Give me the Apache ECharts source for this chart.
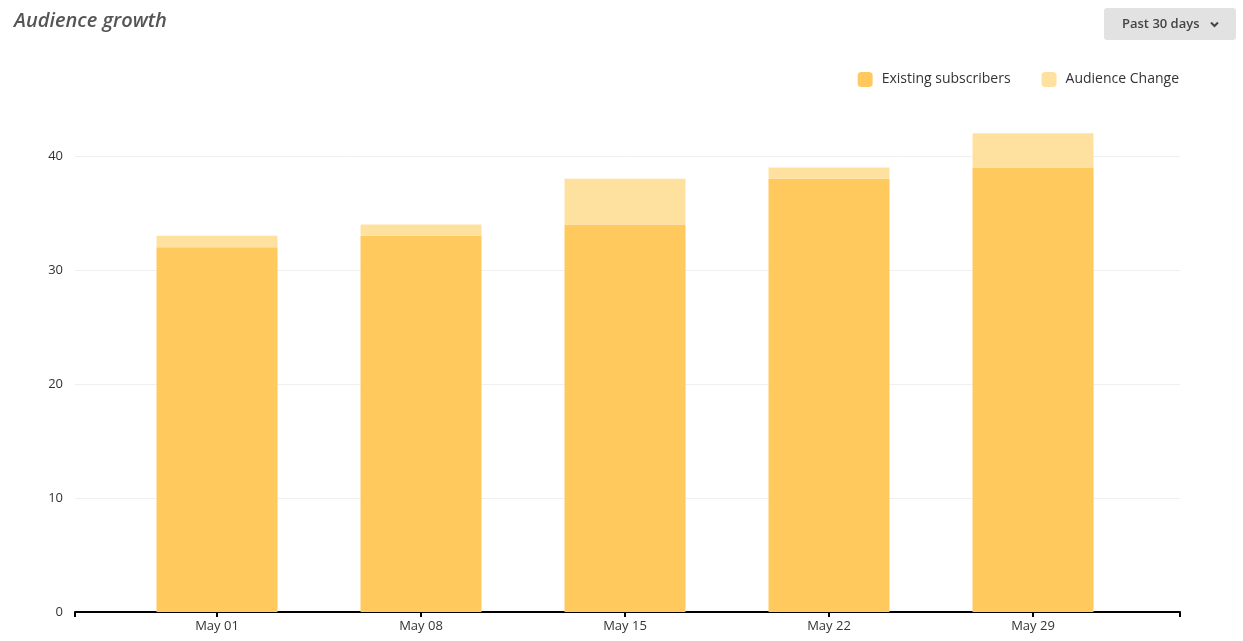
<!DOCTYPE html>
<html>
<head>
<meta charset="utf-8">
<script src="https://cdn.jsdelivr.net/npm/echarts@6/dist/echarts.min.js"></script>
<style>
html,body{margin:0;padding:0;background:#fff;}
#c{width:1243px;height:641px;}
</style>
</head>
<body>
<div id="c"></div>
<script>
const categories = ['May 01', 'May 08', 'May 15', 'May 22', 'May 29'];
const existingSubscribers = [32, 33, 34, 38, 39];
const audienceChange = [1, 1, 4, 1, 3];
const yTicks = [0, 10, 20, 30, 40];

const chart = echarts.init(document.getElementById('c'));
const font = '"Open Sans", "Noto Sans", sans-serif';
const yMin = yTicks[0], yMax = yTicks[yTicks.length - 1];
chart.setOption({
  animation: false,
  textStyle: { fontFamily: font },
  title: {
    text: 'Audience growth', left: 9, top: 6,
    textStyle: { fontFamily: font, fontStyle: 'italic', fontWeight: 600, fontSize: 20, color: '#555' }
  },
  legend: {
    right: 59, top: 67, icon: 'roundRect', itemWidth: 15, itemHeight: 15, itemGap: 31,
    textStyle: { fontFamily: font, fontSize: 14, color: '#333', padding: [0, 0, 0, 4] },
    data: ['Existing subscribers', 'Audience Change']
  },
  grid: [
    { left: 115, right: 108, top: 156, bottom: 29 },
    { left: 75, right: 63, top: 156, bottom: 29 }
  ],
  xAxis: [
    {
      type: 'category', gridIndex: 0, data: categories,
      axisLine: { show: false },
      axisTick: { show: true, alignWithLabel: true, length: 5, lineStyle: { color: '#000', width: 2 } },
      axisLabel: { fontFamily: font, fontSize: 13, color: '#333', margin: 8 }
    },
    {
      type: 'value', gridIndex: 1, min: 0, max: 1,
      axisLine: { show: true, lineStyle: { color: '#000', width: 2 } },
      axisTick: { show: true, customValues: [0, 1], length: 5, lineStyle: { color: '#000', width: 2 } },
      axisLabel: { show: false },
      splitLine: { show: false }
    }
  ],
  yAxis: [
    {
      type: 'value', gridIndex: 0, min: yMin, max: yMax, interval: 10, show: false,
      splitLine: { show: false }
    },
    {
      type: 'value', gridIndex: 1, min: yMin, max: yMax, interval: 10,
      axisLine: { show: false }, axisTick: { show: false },
      axisLabel: { fontFamily: font, fontSize: 13, color: '#333', margin: 12 },
      splitLine: { lineStyle: { color: '#efefef', width: 1 } }
    }
  ],
  series: [
    {
      name: 'Existing subscribers', type: 'bar', stack: 'total', barWidth: 121, clip: false,
      xAxisIndex: 0, yAxisIndex: 0, z: 3,
      itemStyle: { color: '#FFC95D' },
      data: existingSubscribers
    },
    {
      name: 'Audience Change', type: 'bar', stack: 'total', barWidth: 121, clip: false,
      xAxisIndex: 0, yAxisIndex: 0, z: 3,
      itemStyle: { color: '#FFE19F' },
      data: audienceChange
    }
  ],
  graphic: [
    { type: 'rect', left: 1104, top: 8, shape: { width: 132, height: 32, r: 3 }, style: { fill: '#e2e2e2' } },
    { type: 'text', x: 1122, y: 24, style: { text: 'Past 30 days', fontFamily: font, fontSize: 13, fontWeight: 600, fill: '#444', verticalAlign: 'middle' } },
    { type: 'polyline', shape: { points: [[1211, 22.5], [1214.5, 26], [1218, 22.5]] }, style: { stroke: '#444', lineWidth: 2, fill: null } }
  ]
});
</script>
</body>
</html>
